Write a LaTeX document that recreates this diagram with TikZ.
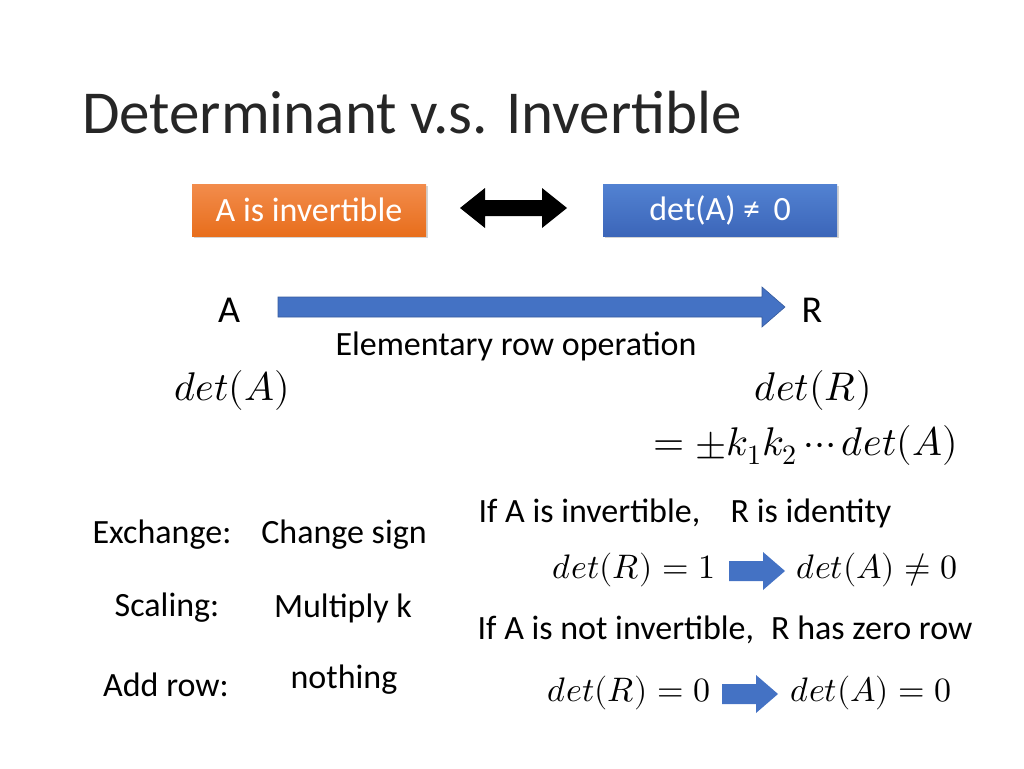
\documentclass[tikz,border=0pt]{standalone}
\usepackage{unicode-math}
\setmainfont{Carlito}
\setmathfont{Latin Modern Math}
\usetikzlibrary{shadows}
\definecolor{offblue}{HTML}{4472C4}
\definecolor{orangetop}{HTML}{F28C4C}
\definecolor{orangebot}{HTML}{E86E1C}
\definecolor{bluetop}{HTML}{5282D2}
\definecolor{bluebot}{HTML}{3C66B9}
\newcommand{\bodyfs}{\fontsize{34}{38}\selectfont}
\newcommand{\mathfs}{\fontsize{34}{38}\selectfont}
\newcommand{\bigmathfs}{\fontsize{40}{44}\selectfont}
\tikzset{
  txt/.style={inner sep=0pt, font=\bodyfs, text=black},
  mth/.style={inner sep=0pt, font=\mathfs, text=black},
  bigmth/.style={inner sep=0pt, font=\bigmathfs, text=black},
  ebox/.style={minimum width=234pt, minimum height=52pt, inner sep=0pt, text=white, font=\bodyfs,
    drop shadow={shadow xshift=1.5pt, shadow yshift=-2pt, opacity=0.35}},
  blockarrow/.style={fill=offblue},
}
\begin{document}
\begin{tikzpicture}[x=1pt,y=-1pt]
\useasboundingbox (0,0) rectangle (1024,768);
% title
\node[anchor=base west, inner sep=0pt, font=\fontsize{61}{66}\selectfont, text=black!85] (title) at (82,133) {Determinant v.s. Invertible};
% top boxes
\node[ebox, top color=orangetop, bottom color=orangebot] (inv) at (309,210) {A is invertible};
\node[ebox, top color=bluetop, bottom color=bluebot] (det) at (720,210) {det(A) ≠\, 0};
% black double arrow
\fill[black] (460,208) -- (485,188) -- (485,200) -- (542,200) -- (542,188) -- (567,208) -- (542,228) -- (542,216) -- (485,216) -- (485,228) -- cycle;
% A and R
\node[txt, font=\fontsize{38}{42}\selectfont] (A) at (229,310) {A};
\node[txt, font=\fontsize{38}{42}\selectfont] (R) at (812,310) {R};
\fill[offblue, draw=offblue!80!black, line width=0.6pt] (278,297) -- (762,297) -- (762,287) -- (785,307) -- (762,327) -- (762,317) -- (278,317) -- cycle;
\node[txt] (ero) at (516,346) {Elementary row operation};
% determinants
\node[bigmth] (detA) at (232,390) {$det(A)$};
\node[bigmth] (detR) at (813,390) {$det(R)$};
\node[bigmth, anchor=east] (prod) at (958,445) {$=\pm k_1k_2\cdots det(A)$};
% left table
\node[txt] (ex) at (162,535) {Exchange:};
\node[txt] (cs) at (344,535) {Change sign};
\node[txt] (sc) at (167,608) {Scaling:};
\node[txt] (mk) at (343,608) {Multiply k};
\node[txt] (ad) at (166,685) {Add row:};
\node[txt] (no) at (344,680) {nothing};
% right side
\node[txt] (ifinv) at (685,513) {If A is invertible,\enspace\, R is identity};
\node[mth] (dr1) at (634,570) {$det(R)=1$};
\node[mth] (da1) at (877,570) {$det(A)\neq 0$};
\fill[blockarrow] (729,561) -- (763,561) -- (763,552) -- (785,571) -- (763,590) -- (763,581) -- (729,581) -- cycle;
\node[txt] (ifnot) at (725,630) {If A is not invertible,\enspace R has zero row};
\node[mth] (dr0) at (629,693) {$det(R)=0$};
\node[mth] (da0) at (871,693) {$det(A)=0$};
\fill[blockarrow] (722,684) -- (756,684) -- (756,675) -- (778,694) -- (756,713) -- (756,704) -- (722,704) -- cycle;
\end{tikzpicture}
\end{document}
